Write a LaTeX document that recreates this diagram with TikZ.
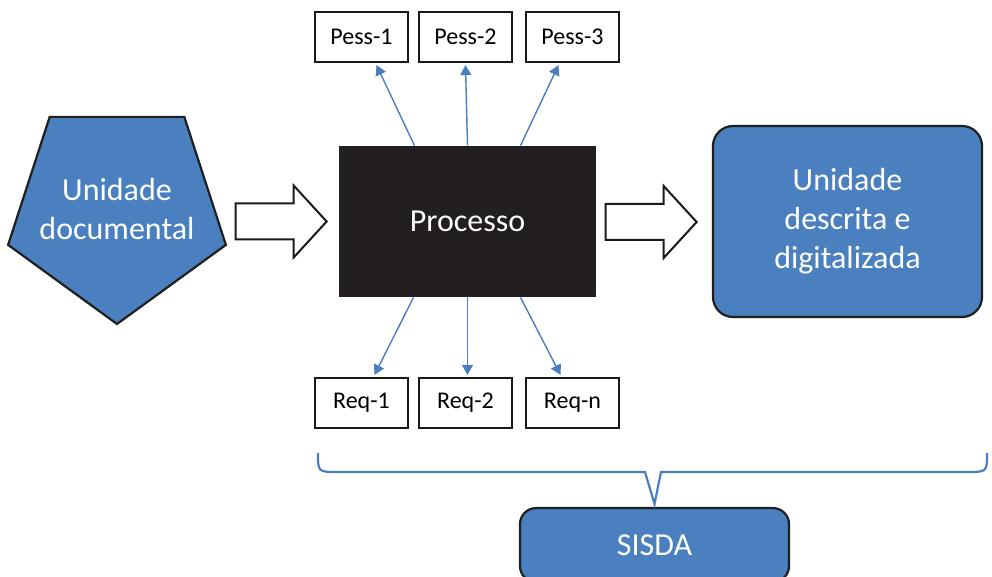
\documentclass[tikz,border=0pt]{standalone}
\usepackage{fontspec}
\setmainfont{Carlito}
\usetikzlibrary{shapes.geometric,shapes.arrows,arrows.meta}
\newdimen\unitsize
\setlength{\unitsize}{0.5pt}
\definecolor{boxblue}{HTML}{4A80C0}
\definecolor{linkblue}{HTML}{4A7EBF}
\definecolor{procblack}{HTML}{231F20}

\begin{document}
\begin{tikzpicture}[x=\unitsize,y=-\unitsize]
\tikzset{bluebox/.style={draw=black!88, line width=1.1pt, fill=boxblue, text=white, align=center, inner sep=0pt, font=\fontsize{16}{19.5}\selectfont}}%
\tikzset{bluetext/.style={text=white, align=center, inner sep=0pt, font=\fontsize{16}{19.5}\selectfont}}%
\tikzset{namebox/.style={draw=black!90, line width=1.1pt, minimum width=93\unitsize, minimum height=50\unitsize, inner sep=0pt, font=\fontsize{12}{14}\selectfont}}%
\tikzset{link/.style={linkblue, line width=0.7pt, -{Triangle[length=5pt,width=5.5pt]}}}%
\tikzset{bigarrow/.style={single arrow, draw=black!90, line width=1pt, fill=white, inner sep=0pt, inner ysep=17\unitsize, minimum height=91\unitsize, single arrow head extend=18\unitsize, single arrow tip angle=95, anchor=tip}}%
\useasboundingbox (0,0) rectangle (992,577);
% input, process, output
\node[bluebox, regular polygon, regular polygon sides=5, shape border rotate=180, minimum size=229\unitsize, label={[bluetext]center:Unidade\\documental}] (documental) at (117,209.5) {};
\node[fill=procblack, text=white, minimum width=257\unitsize, minimum height=151\unitsize, font=\fontsize{16}{19.5}\selectfont] (proc) at (467.5,221.5) {Processo};
\node[bluebox, rounded corners=10pt, minimum width=269\unitsize, minimum height=191\unitsize] (digital) at (847.5,221.5) {Unidade\\descrita e\\digitalizada};
\node[bigarrow] (arr1) at (328,221.5) {};
\node[bigarrow] (arr2) at (698,222) {};
% people above, requirements below
\foreach \name/\x/\txt in {pess1/361.5/Pess-1, pess2/465.5/Pess-2, pess3/572.5/Pess-3}
  \node[namebox] (\name) at (\x,37) {\txt};
\foreach \name/\x/\txt in {req1/361.5/Req-1, req2/465.5/Req-2, req3/572.5/Req-n}
  \node[namebox] (\name) at (\x,403) {\txt};
\draw[link] ([xshift=-53\unitsize]proc.north) -- ([xshift=15\unitsize,yshift=-1pt]pess1.south);
\draw[link] (proc.north) -- ([yshift=-1pt]pess2.south);
\draw[link] ([xshift=53\unitsize]proc.north) -- ([xshift=-14\unitsize,yshift=-1pt]pess3.south);
\draw[link] ([xshift=-54\unitsize]proc.south) -- ([xshift=13\unitsize,yshift=1pt]req1.north);
\draw[link] (proc.south) -- ([xshift=2\unitsize,yshift=1pt]req2.north);
\draw[link] ([xshift=53\unitsize]proc.south) -- ([xshift=-12\unitsize,yshift=1pt]req3.north);
% system box under the brace
\node[bluebox, rounded corners=8pt, minimum width=269\unitsize, minimum height=74\unitsize, anchor=north] (sisda) at (654.5,507) {SISDA};
\coordinate (tip) at ([yshift=1.5pt]sisda.north);
\draw[linkblue, line width=1.1pt] (318,453) .. controls (318,472) .. (338,472) -- (645,472) -- (tip) -- (661,472) -- (967,472) .. controls (987,472) .. (987,453);
\end{tikzpicture}
\end{document}
